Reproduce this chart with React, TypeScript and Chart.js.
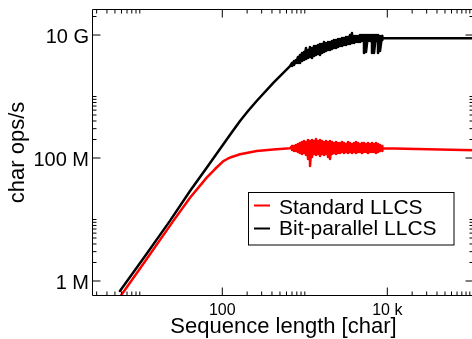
import React, { useEffect, useRef } from "react";
import { Chart, registerables } from "chart.js";

Chart.register(...registerables);

// ---------- data ----------
const SERIES_NAMES = ["Standard LLCS", "Bit-parallel LLCS"];
const SERIES_COLORS = ["#ff0000", "#000000"];

// smooth rising part
const STD_X = [5.75, 11.6, 25.5, 40.6, 64.7, 81.6, 103, 115, 130, 164, 261, 415, 662];
const STD_Y = [5.5e5, 2.09e6, 9.5e6, 2.26e7, 4.79e7, 6.62e7, 8.93e7, 9.64e7, 1.04e8, 1.15e8, 1.3e8, 1.38e8, 1.44e8];
const BIT_X = [5.75, 11.6, 23.2, 40.6, 64.7, 103, 130, 164, 205, 261, 415, 662];
const BIT_Y = [6.9e5, 2.55e6, 9.5e6, 2.9e7, 6.95e7, 1.67e8, 2.59e8, 4.0e8, 5.81e8, 8.45e8, 1.67e9, 3.13e9];

// noisy part: sample positions with upper / lower envelope of the scatter
const NOISE_X = [
  700, 740, 782, 827, 875, 925, 978, 1034, 1094, 1156, 1223, 1293, 1367, 1445,
  1529, 1616, 1709, 1807, 1911, 2021, 2137, 2259, 2389, 2526, 2672, 2825, 2987,
  3158, 3339, 3531, 3734, 3948, 4175, 4414, 4668, 4935, 5219, 5518, 5835, 6170,
  6524, 6898, 7294, 7713, 8155, 8624,
];
const STD_NOISE_HI = [
  1.567e8, 1.567e8, 1.627e8, 1.689e8, 1.754e8, 1.82e8, 1.89e8, 1.82e8, 1.962e8, 1.89e8,
  1.962e8, 1.89e8, 2.037e8, 1.89e8, 1.962e8, 1.89e8, 1.82e8, 1.89e8, 1.82e8, 1.89e8,
  1.82e8, 1.754e8, 1.82e8, 1.754e8, 1.754e8, 1.82e8, 1.754e8, 1.689e8, 1.82e8, 1.754e8,
  1.689e8, 1.754e8, 1.82e8, 1.754e8, 1.689e8, 1.754e8, 1.754e8, 1.689e8, 1.754e8, 1.689e8,
  1.754e8, 1.689e8, 1.754e8, 1.689e8, 1.627e8, 1.567e8,
];
const STD_NOISE_LO = [
  1.349e8, 1.3e8, 1.3e8, 1.252e8, 1.206e8, 1.161e8, 1.206e8, 1.119e8, 9.63e7, 7.41e7,
  1.038e8, 1.161e8, 1.119e8, 1.161e8, 1.078e8, 1.161e8, 1.119e8, 1.161e8, 1.038e8, 9.63e7,
  1.161e8, 1.206e8, 1.161e8, 1.206e8, 1.206e8, 1.252e8, 1.206e8, 1.252e8, 1.206e8, 1.252e8,
  1.206e8, 1.252e8, 1.206e8, 1.252e8, 1.252e8, 1.206e8, 1.252e8, 1.252e8, 1.206e8, 1.252e8,
  1.252e8, 1.252e8, 1.206e8, 1.252e8, 1.3e8, 1.3e8,
];
const BIT_NOISE_HI = [
  3.5e9, 3.78e9, 3.92e9, 4.39e9, 4.73e9, 5.1e9, 5.29e9, 6.15e9, 5.7e9, 6.38e9,
  6.15e9, 6.62e9, 6.62e9, 6.88e9, 7.14e9, 7.14e9, 7.69e9, 7.41e9, 7.69e9, 7.69e9,
  7.99e9, 8.29e9, 8.29e9, 8.61e9, 8.61e9, 8.94e9, 8.94e9, 9.28e9, 9.28e9, 1.0e10,
  1.078e10, 9.63e9, 9.63e9, 9.63e9, 1.0e10, 1.0e10, 1.0e10, 1.0e10, 1.0e10, 1.0e10,
  1.0e10, 1.0e10, 1.0e10, 1.0e10, 9.63e9, 9.63e9,
];
const BIT_NOISE_LO = [
  3.13e9, 3.25e9, 3.5e9, 3.5e9, 3.5e9, 3.78e9, 3.92e9, 4.07e9, 4.23e9, 4.39e9,
  4.23e9, 4.56e9, 4.73e9, 4.91e9, 4.73e9, 5.1e9, 5.29e9, 5.49e9, 5.7e9, 5.7e9,
  5.92e9, 6.15e9, 6.15e9, 6.38e9, 6.62e9, 6.62e9, 6.88e9, 6.88e9, 7.14e9, 7.14e9,
  7.41e9, 7.41e9, 7.69e9, 7.69e9, 7.69e9, 7.99e9, 5.1e9, 5.29e9, 7.99e9, 7.99e9,
  5.1e9, 5.1e9, 7.99e9, 5.1e9, 5.49e9, 8.29e9,
];

// flat tail
const STD_TAIL_X = [8800, 120000];
const STD_TAIL_Y = [1.44e8, 1.33e8];
const BIT_TAIL_X = [8800, 120000];
const BIT_TAIL_Y = [8.85e9, 8.85e9];

const X_MIN = 2.71;
const X_MAX = 1.124e5;
const Y_MIN = 5.7e5;
const Y_MAX = 2.65e10;

const X_MAJOR_TICKS = [100, 10000];
const X_MAJOR_LABELS = ["100", "10 k"];
const X_MINOR_TICKS = [
  3, 4, 5, 6, 7, 8, 9, 10,
  200, 300, 400, 500, 600, 700, 800, 900, 1000,
  20000, 30000, 40000, 50000, 60000, 70000, 80000, 90000, 100000,
];
const Y_MAJOR_TICKS = [1e6, 1e8, 1e10];
const Y_MAJOR_LABELS = ["1 M", "100 M", "10 G"];
const Y_MINOR_TICKS = [
  2e6, 3e6, 4e6, 5e6, 6e6, 7e6, 8e6, 9e6, 1e7,
  2e8, 3e8, 4e8, 5e8, 6e8, 7e8, 8e8, 9e8, 1e9,
  2e10,
];

const X_TITLE = "Sequence length [char]";
const Y_TITLE = "char ops/s";

// ---------- helpers ----------
function buildSeries(
  xs: number[], ys: number[],
  nx: number[], hi: number[], lo: number[],
  tx: number[], ty: number[]
) {
  const pts: { x: number; y: number }[] = [];
  xs.forEach((x, i) => pts.push({ x, y: ys[i] }));
  nx.forEach((x, i) => {
    pts.push({ x, y: hi[i] });
    pts.push({ x, y: lo[i] });
  });
  tx.forEach((x, i) => pts.push({ x, y: ty[i] }));
  return pts;
}

const FONT = '"Liberation Sans", Arial, Helvetica, sans-serif';

const framePlugin = {
  id: "gnuFrame",
  afterDraw(chart: any) {
    const { ctx, chartArea: a, scales } = chart;
    const xs = scales.x;
    const ys = scales.y;
    ctx.save();
    ctx.strokeStyle = "#000";
    ctx.fillStyle = "#000";
    ctx.lineWidth = 1;

    const L = a.left - 0.5;
    const R = a.right - 0.5;
    const T = a.top + 0.5;
    const B = a.bottom - 0.5;

    ctx.beginPath();
    ctx.moveTo(L, T);
    ctx.lineTo(R, T);
    ctx.lineTo(R, B);
    ctx.lineTo(L, B);
    ctx.closePath();
    ctx.stroke();

    const drawXTick = (v: number, len: number) => {
      const px = xs.getPixelForValue(v);
      ctx.beginPath();
      ctx.moveTo(px, B);
      ctx.lineTo(px, B - len);
      ctx.moveTo(px, T);
      ctx.lineTo(px, T + len);
      ctx.stroke();
    };
    const drawYTick = (v: number, len: number) => {
      const py = ys.getPixelForValue(v);
      ctx.beginPath();
      ctx.moveTo(L, py);
      ctx.lineTo(L + len, py);
      ctx.moveTo(R, py);
      ctx.lineTo(R - len, py);
      ctx.stroke();
    };
    X_MINOR_TICKS.forEach((v) => drawXTick(v, 4));
    X_MAJOR_TICKS.forEach((v) => drawXTick(v, 8));
    Y_MINOR_TICKS.forEach((v) => drawYTick(v, 4));
    Y_MAJOR_TICKS.forEach((v) => drawYTick(v, 8));

    ctx.font = `20px ${FONT}`;
    ctx.textAlign = "right";
    ctx.textBaseline = "alphabetic";
    Y_MAJOR_TICKS.forEach((v, i) => {
      ctx.fillText(Y_MAJOR_LABELS[i], a.left - 4, ys.getPixelForValue(v) + 8);
    });
    ctx.font = `16px ${FONT}`;
    ctx.textAlign = "center";
    X_MAJOR_TICKS.forEach((v, i) => {
      ctx.fillText(X_MAJOR_LABELS[i], xs.getPixelForValue(v), a.bottom + 19);
    });

    ctx.font = `22px ${FONT}`;
    ctx.textAlign = "center";
    ctx.fillText(X_TITLE, (a.left + a.right) / 2, a.bottom + 37);
    ctx.save();
    ctx.translate(17.5, (a.top + a.bottom) / 2);
    ctx.rotate(-Math.PI / 2);
    ctx.textBaseline = "middle";
    ctx.fillText(Y_TITLE, 0, 0);
    ctx.restore();

    // legend
    const bx = 248.5, by = 192.5, bw = 205.5, bh = 52.5;
    ctx.fillStyle = "#fff";
    ctx.fillRect(bx, by, bw, bh);
    ctx.strokeStyle = "#000";
    ctx.lineWidth = 1;
    ctx.strokeRect(bx, by, bw, bh);
    ctx.font = `21px ${FONT}`;
    ctx.textAlign = "left";
    ctx.textBaseline = "alphabetic";
    const rows = [213.5, 235];
    const sampleY = [205.5, 228.5];
    SERIES_NAMES.forEach((name, i) => {
      ctx.strokeStyle = SERIES_COLORS[i];
      ctx.lineWidth = 2;
      ctx.beginPath();
      ctx.moveTo(254, sampleY[i]);
      ctx.lineTo(270, sampleY[i]);
      ctx.stroke();
      ctx.fillStyle = "#000";
      ctx.fillText(name, 279, rows[i]);
    });
    ctx.restore();
  },
};

export default function App() {
  const canvasRef = useRef<HTMLCanvasElement | null>(null);

  useEffect(() => {
    const canvas = canvasRef.current;
    if (!canvas) return;
    const common = {
      borderWidth: 2.5,
      pointRadius: 0,
      tension: 0,
      borderJoinStyle: "round",
      borderCapStyle: "round",
      clip: 0,
    };
    const chart = new Chart(canvas, {
      type: "line",
      data: {
        datasets: [
          {
            ...common,
            label: SERIES_NAMES[0],
            data: buildSeries(STD_X, STD_Y, NOISE_X, STD_NOISE_HI, STD_NOISE_LO, STD_TAIL_X, STD_TAIL_Y),
            borderColor: SERIES_COLORS[0],
            backgroundColor: SERIES_COLORS[0],
          },
          {
            ...common,
            label: SERIES_NAMES[1],
            data: buildSeries(BIT_X, BIT_Y, NOISE_X, BIT_NOISE_HI, BIT_NOISE_LO, BIT_TAIL_X, BIT_TAIL_Y),
            borderColor: SERIES_COLORS[1],
            backgroundColor: SERIES_COLORS[1],
          },
        ],
      },
      options: {
        animation: false,
        responsive: false,
        devicePixelRatio: 1,
        layout: { padding: { left: 93, top: 9, right: 6, bottom: 43 } },
        plugins: { legend: { display: false }, tooltip: { enabled: false } },
        scales: {
          x: {
            type: "logarithmic",
            display: false,
            min: X_MIN,
            max: X_MAX,
            bounds: "data",
            afterDataLimits: (s: any) => {
              s.min = X_MIN;
              s.max = X_MAX;
            },
          },
          y: {
            type: "logarithmic",
            display: false,
            min: Y_MIN,
            max: Y_MAX,
            bounds: "data",
            afterDataLimits: (s: any) => {
              s.min = Y_MIN;
              s.max = Y_MAX;
            },
          },
        },
      } as any,
      plugins: [framePlugin],
    });
    return () => chart.destroy();
  }, []);

  return (
    <div
      style={{
        position: "fixed",
        left: 0,
        top: 0,
        width: 472,
        height: 339,
        overflow: "hidden",
        background: "#fff",
      }}
    >
      <canvas
        ref={canvasRef}
        width={480}
        height={339}
        style={{ display: "block", width: 480, height: 339 }}
      />
    </div>
  );
}
